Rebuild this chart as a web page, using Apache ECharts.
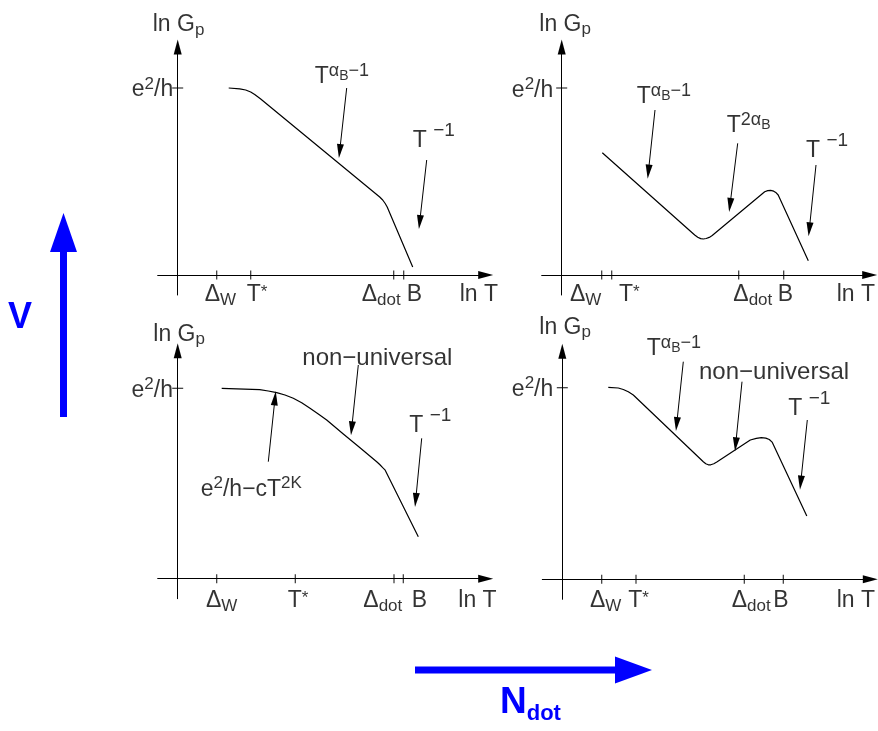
<!DOCTYPE html>
<html>
<head>
<meta charset="utf-8">
<script src="https://cdn.jsdelivr.net/npm/echarts@6/dist/echarts.min.js"></script>
<style>
html, body { margin: 0; padding: 0; background: #fff; }
#chart { width: 878px; height: 731px; }
</style>
</head>
<body>
<div id="chart"></div>
<script>
// schematic ln G vs ln T (arbitrary units)
// panel 1 : top left
var curve1 = [[5.1,18.7],[6.2,18.62],[6.8,18.5],[7.3,18.3],[7.7,18.05],[8.3,17.6],[20.2,7.8],[20.5,7.5],[20.75,7.15],[20.95,6.8],[23.5,0.8]];
var ticks1 = [3.9, 7.3, 21.6, 22.6];
var level1 = 18.7;
var arrows1 = [[16.9,18.7,16.2,12.4],[24.9,11.5,24.2,5.3]];
var notes1 = [[-2.5,25.2,'lnG'],[-0.45,18.7,'e2h'],[13.7,20.0,'TaB'],[23.5,13.6,'Tm1']];
var tickText1 = [[2.7,-1.8,'dW'],[6.9,-1.8,'Ts'],[18.4,-1.8,'dDot'],[22.9,-1.8,'B'],[28.2,-1.8,'lnT']];

// panel 2 : top right
var curve2 = [[4.06,12.23],[13.3,4.0],[13.6,3.78],[13.9,3.64],[14.16,3.6],[14.45,3.65],[14.75,3.76],[15.05,3.95],[20.3,8.33],[20.6,8.44],[20.9,8.46],[21.2,8.38],[21.45,8.22],[21.65,8.0],[24.66,1.43]];
var ticks2 = [4.0, 5.0, 17.7, 22.2];
var level2 = 18.7;
var arrows2 = [[9.33,16.5,8.67,10.33],[17.6,13.17,16.83,7.0],[25.43,11.0,24.76,4.57]];
var notes2 = [[-2.24,25.25,'lnG'],[-0.84,18.65,'e2h'],[7.5,18.0,'TaB'],[16.5,15.1,'T2aB'],[24.43,12.67,'Tm1']];
var tickText2 = [[0.83,-1.8,'dW'],[5.73,-1.8,'Ts'],[17.16,-1.8,'dDot'],[21.6,-1.8,'B'],[27.5,-1.8,'lnT']];

// panel 3 : bottom left
var curve3 = [[4.4,19.04],[8.2,18.9],[9.06,18.77],[9.9,18.6],[10.73,18.37],[11.56,18.04],[12.4,17.6],[13.23,17.04],[14.06,16.47],[14.9,15.87],[16.56,14.47],[18.23,13.1],[19.9,11.7],[20.2,11.42],[20.5,11.1],[20.75,10.85],[24.06,4.2]];
var ticks3 = [3.9, 11.76, 21.63, 22.56];
var level3 = 19.04;
var arrows3 = [[18.06,21.37,17.4,15.04],[9.06,11.7,9.73,18.04],[24.4,14.04,23.8,7.87]];
var notes3 = [[-2.44,24.62,'lnG'],[-0.47,19.04,'e2h'],[12.46,22.27,'nonu'],[23.16,15.54,'Tm1'],[2.3,9.12,'cT2K']];
var tickText3 = [[2.83,-2.03,'dW'],[11.0,-2.03,'Ts'],[18.56,-2.03,'dDot'],[23.4,-2.03,'B'],[28.06,-2.03,'lnT']];

// panel 4 : bottom right
var curve4 = [[4.6,19.2],[5.6,19.13],[6.1,18.98],[6.6,18.75],[7.1,18.43],[14.1,11.76],[14.35,11.55],[14.6,11.45],[14.85,11.45],[15.15,11.55],[15.45,11.72],[18.8,13.93],[19.4,14.1],[19.9,14.16],[20.35,14.12],[20.7,13.98],[20.98,13.72],[24.45,6.33]];
var ticks4 = [3.94, 7.37, 18.2, 22.1];
var level4 = 19.16;
var arrows4 = [[12.1,21.76,11.44,15.53],[17.97,19.76,17.34,13.5],[24.5,15.93,23.84,9.66]];
var notes4 = [[-2.3,25.35,'lnG'],[-0.9,19.16,'e2h'],[8.44,23.26,'TaB'],[13.67,20.85,'nonu'],[22.6,17.26,'Tm1']];
var tickText4 = [[2.77,-1.97,'dW'],[6.6,-1.97,'Ts'],[16.94,-1.97,'dDot'],[21.1,-1.97,'B'],[27.44,-1.97,'lnT']];

var texts = {
	lnG: 'ln G{subP|p}',
	e2h: 'e{sup|2}/h',
	TaB: 'T{supA|α}{supB|B}{supA|−1}',
	Tm1: 'T {supH|−1}',
	T2aB: 'T{supA|2α}{supB|B}',
	nonu: '{big|non−universal}',
	cT2K: 'e{sup|2}/h−cT{sup|2K}',
	dW: 'Δ{sub|W}',
	Ts: 'T{star|*}',
	dDot: 'Δ{sub|dot}',
	B: 'B',
	lnT: 'ln T'
};

var FONT = 'Liberation Sans, Arial, sans-serif';
// line box is 40px high; small tokens are moved with top / bottom padding
var rich = {
	big:  { fontFamily: FONT, fontSize: 24 },
	sup:  { fontFamily: FONT, fontSize: 17, verticalAlign: 'top', padding: [5.5, 0, 0, 0] },
	star: { fontFamily: FONT, fontSize: 17, verticalAlign: 'top', padding: [8.5, 0, 0, 0] },
	supA: { fontFamily: FONT, fontSize: 18, verticalAlign: 'top', padding: [5.5, 0, 0, 0] },
	supB: { fontFamily: FONT, fontSize: 14, verticalAlign: 'top', padding: [12.5, 0, 0, 0] },
	supH: { fontFamily: FONT, fontSize: 19, verticalAlign: 'top', padding: [0.5, 0, 0, 0] },
	sub:  { fontFamily: FONT, fontSize: 17, verticalAlign: 'bottom', padding: [0, 0, 6, 0] },
	subP: { fontFamily: FONT, fontSize: 17, verticalAlign: 'bottom', padding: [0, 0, 6.5, 0] }
};

var panels = [
	{ x0: 177.7, y0: 275,   curve: curve1, ticks: ticks1, level: level1, arrows: arrows1, notes: notes1, tickText: tickText1 },
	{ x0: 561.7, y0: 275,   curve: curve2, ticks: ticks2, level: level2, arrows: arrows2, notes: notes2, tickText: tickText2 },
	{ x0: 177.7, y0: 578.7, curve: curve3, ticks: ticks3, level: level3, arrows: arrows3, notes: notes3, tickText: tickText3 },
	{ x0: 562.3, y0: 579.3, curve: curve4, ticks: ticks4, level: level4, arrows: arrows4, notes: notes4, tickText: tickText4 }
];

var grids = [], xAxes = [], yAxes = [], series = [];
var axisLine = {
	onZero: true,
	symbol: ['none', 'triangle'],
	symbolSize: [8, 15],
	lineStyle: { color: '#000', width: 1 }
};

panels.forEach(function (p, i) {
	grids.push({ left: p.x0 - 20, top: p.y0 - 228, width: 328, height: 248 });
	xAxes.push({ gridIndex: i, type: 'value', min: -2, max: 30.8, axisLine: axisLine,
		axisTick: { show: false }, axisLabel: { show: false }, splitLine: { show: false } });
	yAxes.push({ gridIndex: i, type: 'value', min: -2, max: 22.8, axisLine: axisLine,
		axisTick: { show: false }, axisLabel: { show: false }, splitLine: { show: false } });

	series.push({
		type: 'line', xAxisIndex: i, yAxisIndex: i,
		data: p.curve, showSymbol: false, symbol: 'none',
		lineStyle: { color: '#000', width: 1.2, join: 'round' }, z: 3
	});
	series.push({
		type: 'scatter', xAxisIndex: i, yAxisIndex: i,
		data: p.ticks.map(function (t) { return [t, 0]; }),
		symbol: 'rect', symbolSize: [1.2, 9], itemStyle: { color: '#000' }, z: 4
	});
	series.push({
		type: 'scatter', xAxisIndex: i, yAxisIndex: i,
		data: [[0, p.level]],
		symbol: 'rect', symbolSize: [11, 1.2], itemStyle: { color: '#000' }, z: 4
	});
	series.push({
		type: 'lines', coordinateSystem: 'cartesian2d', xAxisIndex: i, yAxisIndex: i,
		data: p.arrows.map(function (a) { return { coords: [[a[0], a[1]], [a[2], a[3]]] }; }),
		symbol: ['none', 'path://M0,0 L4,16 L-4,16 Z'],
		symbolSize: [[7, 14], [7, 14]],
		symbolKeepAspect: false,
		symbolOffset: [0, [0, 7]],
		lineStyle: { color: '#000', width: 1, opacity: 1 }, z: 5
	});
	var labelItems = p.notes.concat(p.tickText).map(function (n) {
		var item = { name: n[2], value: [n[0], n[1]] };
		if (n[2] === 'e2h') item.label = { align: 'right' };
		return item;
	});
	series.push({
		type: 'scatter', xAxisIndex: i, yAxisIndex: i,
		data: labelItems, symbolSize: 1, clip: false,
		itemStyle: { color: 'rgba(0,0,0,0)' },
		label: {
			show: true, position: 'inside', align: 'left', verticalAlign: 'middle',
			offset: [0, 2],
			color: '#000', fontFamily: FONT, fontSize: 23, lineHeight: 40,
			rich: rich,
			formatter: function (q) { return texts[q.name]; }
		}, z: 6
	});
});

var blue = '#0000ff';
var chart = echarts.init(document.getElementById('chart'));
chart.setOption({
	animation: false,
	backgroundColor: '#fff',
	grid: grids,
	xAxis: xAxes,
	yAxis: yAxes,
	series: series,
	graphic: [
		{ type: 'rect', shape: { x: 60, y: 248, width: 7, height: 169 }, style: { fill: blue } },
		{ type: 'polygon', shape: { points: [[63.5, 213], [50, 252], [77, 252]] }, style: { fill: blue } },
		{ type: 'text', x: 8, y: 318, style: { text: 'V', fill: blue, font: 'bold 36px ' + FONT, textVerticalAlign: 'middle' } },
		{ type: 'rect', shape: { x: 415, y: 666.5, width: 202, height: 7 }, style: { fill: blue } },
		{ type: 'polygon', shape: { points: [[652, 670], [615, 656.5], [615, 683.5]] }, style: { fill: blue } },
		{ type: 'text', x: 500, y: 703, style: {
			text: '{n|N}{d|dot}', textVerticalAlign: 'middle', fill: blue,
			rich: {
				n: { fontFamily: FONT, fontWeight: 'bold', fontSize: 37, lineHeight: 44, fill: blue },
				d: { fontFamily: FONT, fontWeight: 'bold', fontSize: 22, lineHeight: 20, verticalAlign: 'bottom', fill: blue }
			}
		} }
	]
});
</script>
</body>
</html>
